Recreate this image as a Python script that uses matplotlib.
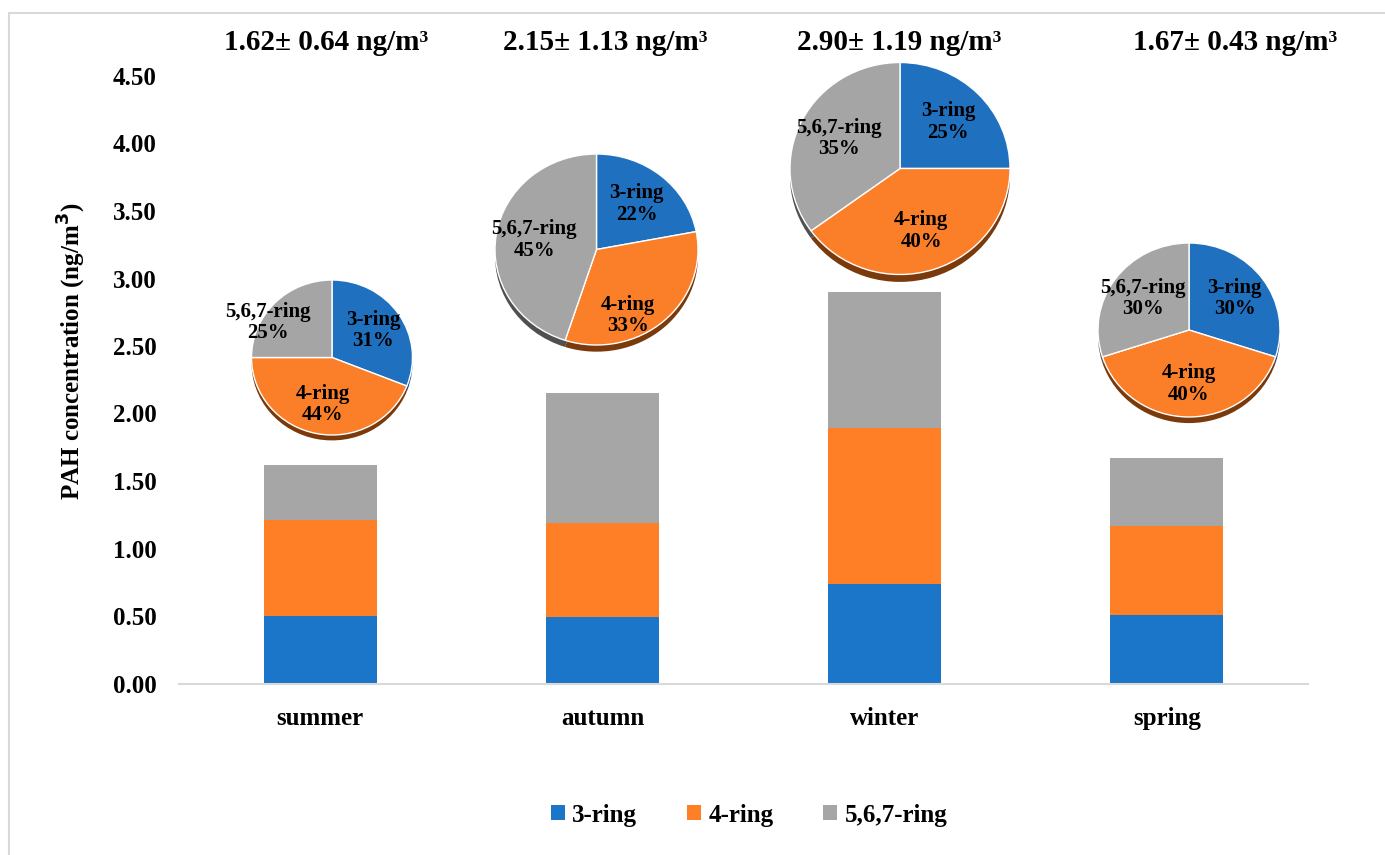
import matplotlib
matplotlib.use('Agg')
import matplotlib.pyplot as plt
from matplotlib.patches import Rectangle
import numpy as np

plt.rcParams['font.family'] = ['Liberation Serif', 'DejaVu Serif']
plt.rcParams['font.weight'] = 'bold'

seasons = ['summer', 'autumn', 'winter', 'spring']
ring3 = [0.50, 0.49, 0.74, 0.51]
ring4 = [0.71, 0.70, 1.15, 0.66]
ring567 = [0.41, 0.96, 1.01, 0.50]
mean_total = [1.62, 2.15, 2.90, 1.67]
sd_total = [0.64, 1.13, 1.19, 0.43]

pct3 = [31, 22, 25, 30]
pct4 = [44, 33, 40, 40]
pct567 = [25, 45, 35, 30]

ring_names = ['3-ring', '4-ring', '5,6,7-ring']
colors = ['#1b75c9', '#fe7f26', '#a6a6a6']
pie_colors = ['#2070c0', '#fb7e29', '#a5a5a5']
shadow_colors = ['#1b4a7a', '#7a3a0c', '#505050']

W, H = 1385, 855
fig = plt.figure(figsize=(W / 100, H / 100), dpi=100)


def px_box(x0, y0, x1, y1):
    # pixel box (top-left origin) -> figure fraction rect
    return [x0 / W, 1 - y1 / H, (x1 - x0) / W, (y1 - y0) / H]


# outer chart border
fig.patches.append(Rectangle((9 / W, -0.05), 1.1, 1 - 13 / H + 0.05,
                             transform=fig.transFigure, fill=False,
                             edgecolor='#d9d9d9', linewidth=1.5))

ax = fig.add_axes(px_box(179, 76, 1308, 683.5))
x = np.arange(len(seasons))
b1 = ax.bar(x, ring3, width=0.4, color=colors[0], label=ring_names[0])
b2 = ax.bar(x, ring4, width=0.4, bottom=ring3, color=colors[1], label=ring_names[1])
bottom2 = np.array(ring3) + np.array(ring4)
b3 = ax.bar(x, ring567, width=0.4, bottom=bottom2, color=colors[2], label=ring_names[2])

ax.set_xlim(-0.5, 3.5)
ax.set_ylim(0, 4.5)
ax.set_yticks(np.arange(0, 4.51, 0.5))
ax.set_yticklabels([f'{v:.2f}' for v in np.arange(0, 4.51, 0.5)])
ax.set_xticks(x)
ax.set_xticklabels(seasons)
ax.tick_params(axis='both', length=0, labelsize=18)
ax.tick_params(axis='x', pad=17)
ax.tick_params(axis='y', pad=16)
for s in ['top', 'right', 'left']:
    ax.spines[s].set_visible(False)
ax.spines['bottom'].set_color('#d9d9d9')
ax.spines['bottom'].set_linewidth(1.5)

fig.text(72 / W, 1 - 351 / H, 'PAH concentration (ng/m$^\\mathbf{3}$)',
         rotation=90, ha='center', va='center', fontsize=18, fontweight='bold')

ax.legend(handles=[b1, b2, b3], loc='center', bbox_to_anchor=(0.505, (683.5 - 815) / (683.5 - 76)),
          ncol=3, frameon=False, fontsize=18, handlelength=0.55, handleheight=0.55,
          handletextpad=0.3, columnspacing=2.0)

# season totals above the plot
title_x = [326, 605, 899, 1235]
for tx, m, s in zip(title_x, mean_total, sd_total):
    fig.text(tx / W, 1 - 43 / H, f'{m:.2f}\u00b1 {s:.2f} ng/m\u00b3',
             ha='center', va='center', fontsize=21, fontweight='bold')

# composition pies (center x, center y, radius x, radius y) in pixels
pie_geom = [(332, 357.5, 80.5, 77.5),
            (596.5, 249.5, 101.5, 95.5),
            (900, 168.5, 110, 106),
            (1189, 330, 91, 87)]
# labels that sit away from the default radial spot (pie index, slice index)
label_moves = {(0, 2): (-0.8, 0.45), (1, 1): (0.31, -0.69)}
for i, (cx, cy, rx, ry) in enumerate(pie_geom):
    pad = 1.1
    pax = fig.add_axes(px_box(cx - rx * pad, cy - ry * pad, cx + rx * pad, cy + ry * pad))
    vals = [pct3[i], pct4[i], pct567[i]]
    pax.pie(vals, colors=shadow_colors, startangle=90, counterclock=False,
            center=(0, -0.07))
    wedges, _ = pax.pie(vals, colors=pie_colors, startangle=90, counterclock=False,
                        wedgeprops=dict(edgecolor='white', linewidth=1.0))
    pax.set_aspect('auto')
    pax.set_xlim(-pad, pad)
    pax.set_ylim(-pad, pad)
    pax.axis('off')
    ang0 = 90.0
    for j, (name, v) in enumerate(zip(ring_names, vals)):
        mid = np.deg2rad(ang0 - v * 3.6 / 2)
        ang0 -= v * 3.6
        lx, ly = label_moves.get((i, j), (0.62 * np.cos(mid), 0.62 * np.sin(mid)))
        pax.text(lx, ly, f'{name}\n{v}%', ha='center', va='center',
                 fontsize=15, fontweight='bold', linespacing=1.1)

fig.savefig('out.png', dpi=100)
